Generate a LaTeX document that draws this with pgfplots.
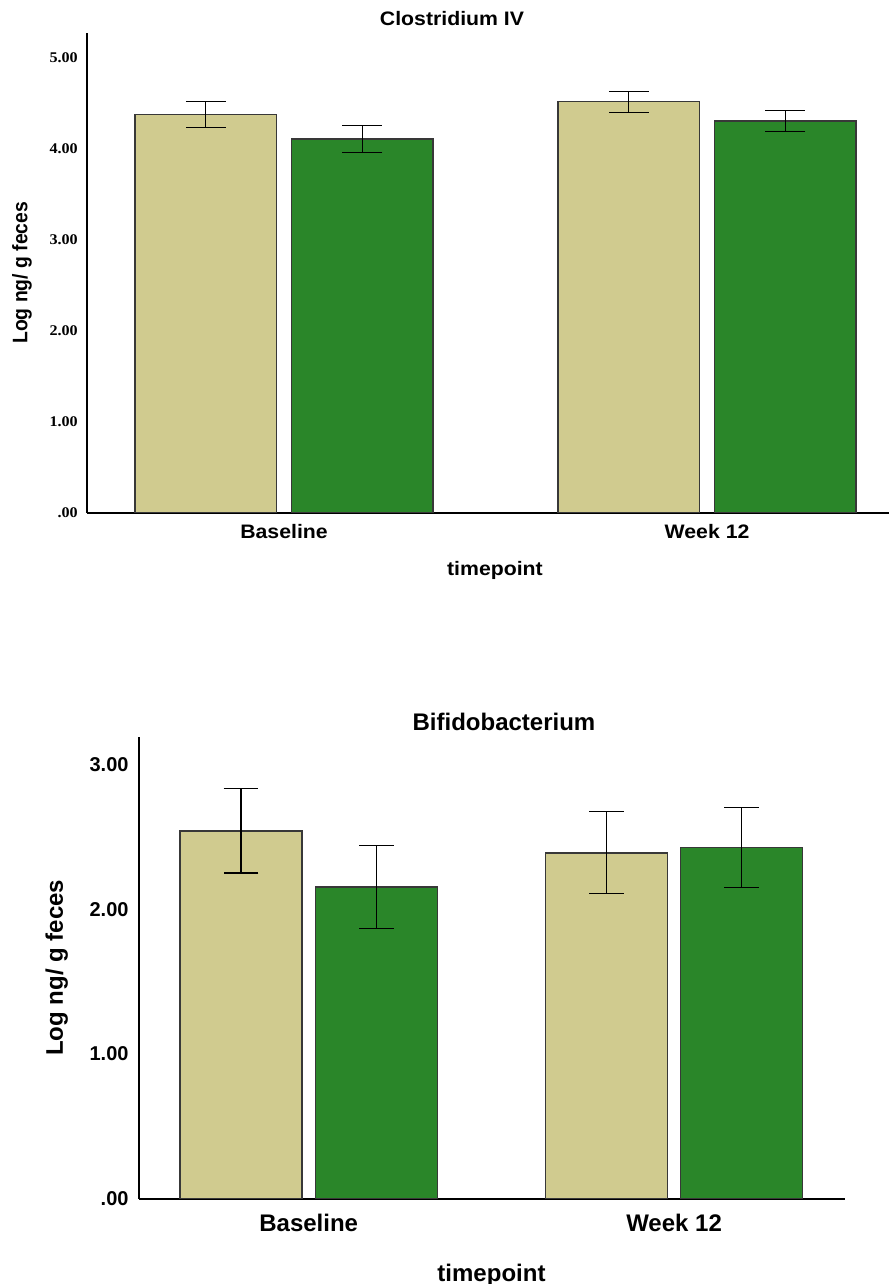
\documentclass[border=0pt]{standalone}
\usepackage{fontspec}
\setmainfont{Liberation Sans}
\newfontfamily\topsans{Liberation Sans}[FakeStretch=1.09]
\newfontfamily\topsansrot{Liberation Sans}[FakeStretch=0.92]
\newfontfamily\topserif{Liberation Serif}[FakeStretch=1.09]
\usepackage{pgfplots}
\pgfplotsset{compat=1.18}
\definecolor{beige}{RGB}{208,203,143}
\definecolor{dgreen}{RGB}{42,134,41}
\pgfplotsset{
  spss/.style={
    scale only axis, axis x line*=bottom, axis y line*=left,
    axis line style={line width=2bp, black},
    major tick length=0pt, xtick={0,1}, xticklabels={Baseline,Week 12},
    ymin=0, clip=false,
  },
  spssbar/.style={ybar, bar width=0.334, bar shift=0pt, draw=black!78, line width=1.5bp,
    error bars/.cd, y dir=both, y explicit,
    error bar style={line width=1.1bp, black},
    error mark options={rotate=90, mark size=#1, line width=1.1bp, black}},
}
\begin{document}
\begin{tikzpicture}
\path[use as bounding box] (0,0) rectangle (889bp,-1284bp);
% ---------- top panel ----------
\begin{axis}[spss,
  at={(87bp,-512.7bp)}, anchor=south west,
  width=802bp, height=479.7bp,
  xmin=-0.4657, xmax=1.430, ymax=5.27,
  ytick={0,1,2,3,4,5}, yticklabels={.00,1.00,2.00,3.00,4.00,5.00},
  yticklabel style={anchor=east, inner sep=0pt, xshift=-9bp, font=\topserif\bfseries\fontsize{14.8bp}{16bp}\selectfont},
  xticklabel style={anchor=center, inner sep=0pt, yshift=-19.3bp, font=\topsans\bfseries\fontsize{19.5bp}{22bp}\selectfont},
  xlabel={timepoint},
  xlabel style={at={(rel axis cs:0.5087,-0.1195)}, anchor=center, inner sep=0pt, font=\topsans\bfseries\fontsize{19.5bp}{22bp}\selectfont},
  ylabel={Log ng/ g feces},
  ylabel style={at={(rel axis cs:-0.081,0.5)}, anchor=center, inner sep=0pt, font=\topsansrot\bfseries\fontsize{21bp}{24bp}\selectfont},
  title={Clostridium IV},
  title style={at={(rel axis cs:0.4551,1.0292)}, anchor=center, yshift=-6pt, inner sep=0pt, font=\topsans\bfseries\fontsize{19.5bp}{22bp}\selectfont},
]
\addplot[fill=beige, spssbar=20bp] coordinates {(-0.185,4.376) +- (0,0.146) (0.815,4.516) +- (0,0.115)};
\addplot[fill=dgreen, spssbar=20bp] coordinates {(0.185,4.107) +- (0,0.149) (1.185,4.304) +- (0,0.119)};
\end{axis}
% ---------- bottom panel ----------
\begin{axis}[spss,
  at={(138.7bp,-1198.7bp)}, anchor=south west,
  width=706bp, height=462bp,
  xmin=-0.4654, xmax=1.467, ymax=3.193,
  ytick={0,1,2,3}, yticklabels={.00,1.00,2.00,3.00},
  yticklabel style={anchor=east, inner sep=0pt, xshift=-10bp, font=\bfseries\fontsize{20bp}{22bp}\selectfont},
  xticklabel style={anchor=center, inner sep=0pt, yshift=-24.6bp, font=\bfseries\fontsize{24bp}{27bp}\selectfont},
  xlabel={timepoint},
  xlabel style={at={(rel axis cs:0.4997,-0.1655)}, anchor=center, inner sep=0pt, font=\bfseries\fontsize{24bp}{27bp}\selectfont},
  ylabel={Log ng/ g feces},
  ylabel style={at={(rel axis cs:-0.1161,0.5)}, anchor=center, inner sep=0pt, font=\bfseries\fontsize{24bp}{27bp}\selectfont},
  title={Bifidobacterium},
  title style={at={(rel axis cs:0.5174,1.0318)}, anchor=center, yshift=-6pt, inner sep=0pt, font=\bfseries\fontsize{24bp}{27bp}\selectfont},
]
\addplot[fill=beige, spssbar=17.3bp] coordinates {(-0.1853,2.543) +- (0,0.292) (0.8147,2.391) +- (0,0.282)};
\addplot[fill=dgreen, spssbar=17.3bp] coordinates {(0.185,2.154) +- (0,0.288) (1.185,2.428) +- (0,0.278)};
\end{axis}
\end{tikzpicture}
\end{document}
